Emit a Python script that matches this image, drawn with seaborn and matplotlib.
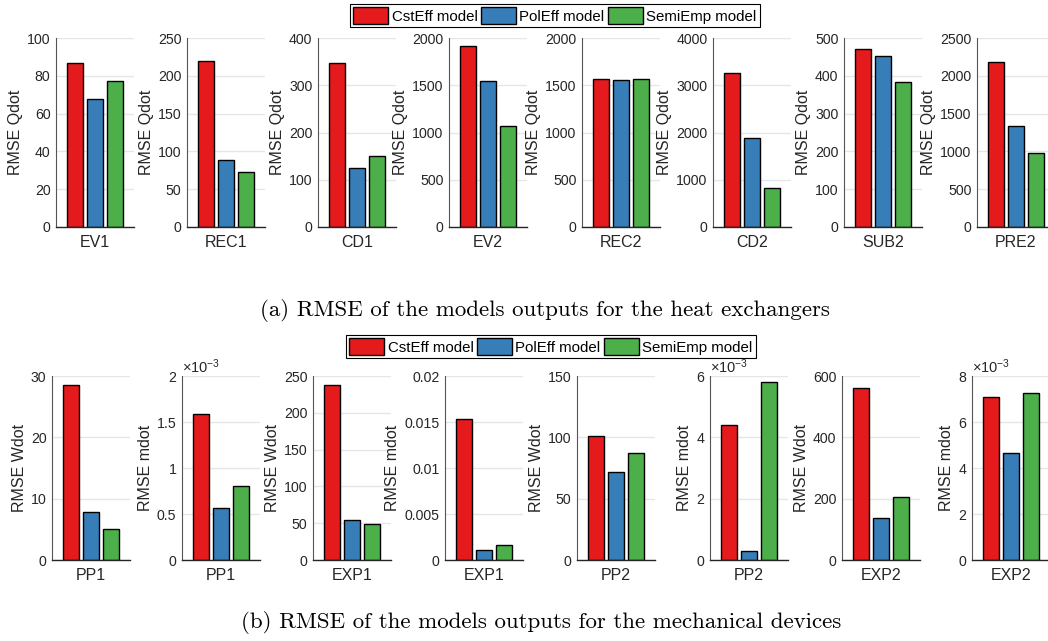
import matplotlib
matplotlib.use("Agg")
import matplotlib.pyplot as plt
from matplotlib.patches import Patch
from matplotlib.ticker import FuncFormatter, MultipleLocator
import seaborn as sns
import pandas as pd

# ---------------- data ----------------
models = ["CstEff model", "PolEff model", "SemiEmp model"]
colors = ["#e41a1c", "#377eb8", "#4daf4a"]

hx_names = ["EV1", "REC1", "CD1", "EV2", "REC2", "CD2", "SUB2", "PRE2"]
hx_ylabels = ["RMSE Qdot"] * 8
hx_cst = [87, 219, 347, 1920, 1565, 3260, 472, 2185]
hx_pol = [67.5, 89, 125, 1545, 1555, 1890, 452, 1340]
hx_semi = [77.5, 73, 150, 1065, 1565, 820, 383, 980]
hx_ymax = [100, 250, 400, 2000, 2000, 4000, 500, 2500]
hx_ystep = [20, 50, 100, 500, 500, 1000, 100, 500]
hx_scale = [1, 1, 1, 1, 1, 1, 1, 1]

md_names = ["PP1", "PP1", "EXP1", "EXP1", "PP2", "PP2", "EXP2", "EXP2"]
md_ylabels = ["RMSE Wdot", "RMSE mdot", "RMSE Wdot", "RMSE mdot",
              "RMSE Wdot", "RMSE mdot", "RMSE Wdot", "RMSE mdot"]
md_cst = [28.6, 1.59e-3, 238, 0.0153, 101, 4.4e-3, 562, 7.1e-3]
md_pol = [7.8, 0.56e-3, 54, 0.0011, 72, 0.3e-3, 136, 4.65e-3]
md_semi = [5.1, 0.80e-3, 49, 0.0016, 87, 5.8e-3, 204, 7.27e-3]
md_ymax = [30, 2e-3, 250, 0.02, 150, 6e-3, 600, 8e-3]
md_ystep = [10, 0.5e-3, 50, 0.005, 50, 2e-3, 200, 2e-3]
md_scale = [1, 1e-3, 1, 1, 1, 1e-3, 1, 1e-3]

caption_a = "(a) RMSE of the models outputs for the heat exchangers"
caption_b = "(b) RMSE of the models outputs for the mechanical devices"

# ---------------- style ----------------
sns.set_style("white")
plt.rcParams["font.family"] = ["Liberation Sans", "DejaVu Sans"]
plt.rcParams["mathtext.fontset"] = "custom"
plt.rcParams["mathtext.rm"] = "Liberation Sans"
plt.rcParams["mathtext.it"] = "Liberation Sans:italic"

W, H = 1048, 641
fig = plt.figure(figsize=(W / 100, H / 100), dpi=100)
fig.patch.set_facecolor("white")

txtc = "#262626"
top_lefts = [56, 187, 318, 449, 582, 713, 844, 977]
bot_lefts = [52, 182, 313, 445, 577, 710, 842, 972]
ax_w = 78


def draw_row(lefts, y_top, y_bot, names, ylabels, cst, pol, semi, ymax, ystep, scale):
    for i in range(len(names)):
        ax = fig.add_axes([lefts[i] / W, 1 - y_bot / H, ax_w / W, (y_bot - y_top) / H])
        df = pd.DataFrame({
            "component": [names[i]] * 3,
            "rmse": [cst[i], pol[i], semi[i]],
            "model": models,
        })
        sns.barplot(data=df, x="component", y="rmse", hue="model",
                    hue_order=models, palette=colors, saturation=1,
                    width=0.76, gap=0.2,
                    edgecolor="black", linewidth=1.0, errorbar=None,
                    legend=False, ax=ax)
        ax.set_xlim(-0.5, 0.5)
        ax.set_ylim(0, ymax[i])
        ax.yaxis.set_major_locator(MultipleLocator(ystep[i]))
        s = scale[i]
        ax.yaxis.set_major_formatter(FuncFormatter(lambda v, p, s=s: "%g" % round(v / s, 6)))
        ax.grid(axis="y", color="#e6e6e6", linewidth=1.0)
        ax.set_axisbelow(True)
        for side in ["top", "right"]:
            ax.spines[side].set_visible(False)
        ax.spines["left"].set_color("#555555")
        ax.spines["left"].set_linewidth(0.8)
        ax.spines["bottom"].set_color("#262626")
        ax.spines["bottom"].set_linewidth(1.0)
        ax.tick_params(axis="y", direction="in", length=3, labelsize=10.2,
                       colors=txtc, pad=4)
        ax.tick_params(axis="x", length=0, labelsize=11.5, colors=txtc, pad=6)
        ax.set_xlabel("")
        ax.set_ylabel(ylabels[i], fontsize=11.5, color=txtc, labelpad=3)
        if s != 1:
            ax.text(0.0, 1.0, r"$\times\mathregular{10^{-3}}$", transform=ax.transAxes,
                    fontsize=10.5, color=txtc, ha="left", va="bottom")


draw_row(top_lefts, 38, 227, hx_names, hx_ylabels, hx_cst, hx_pol, hx_semi,
         hx_ymax, hx_ystep, hx_scale)
draw_row(bot_lefts, 376, 560, md_names, md_ylabels, md_cst, md_pol, md_semi,
         md_ymax, md_ystep, md_scale)

handles = [Patch(facecolor=c, edgecolor="black", linewidth=1.0) for c in colors]
for cx, cy in [(555, 15.5), (551, 346.5)]:
    leg = fig.legend(handles, models, loc="center", bbox_to_anchor=(cx / W, 1 - cy / H),
                     ncol=3, fontsize=10.8, frameon=True, fancybox=False,
                     edgecolor="black", framealpha=1, borderpad=0.2,
                     handlelength=2.3, handleheight=1.3, handletextpad=0.25,
                     columnspacing=0.25, borderaxespad=0)
    leg.get_frame().set_linewidth(0.8)
    for t in leg.get_texts():
        t.set_color("black")

fig.text(545 / W, 1 - 311 / H, caption_a, family="cmr10", fontsize=16.5,
         ha="center", va="center", color="black")
fig.text(541 / W, 1 - 622 / H, caption_b, family="cmr10", fontsize=16.5,
         ha="center", va="center", color="black")

fig.savefig("out.png", dpi=100)
